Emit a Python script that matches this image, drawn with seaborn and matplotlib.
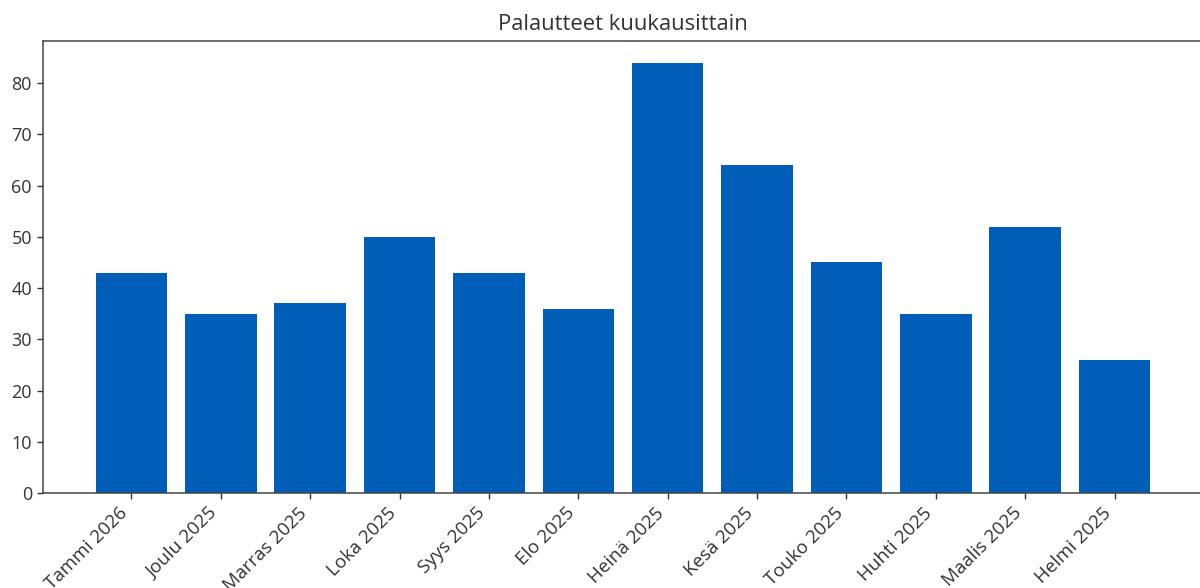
import seaborn as sns
import matplotlib.pyplot as plt
import pandas as pd

months = ["Tammi 2026", "Joulu 2025", "Marras 2025", "Loka 2025", "Syys 2025",
          "Elo 2025", "Heinä 2025", "Kesä 2025", "Touko 2025", "Huhti 2025",
          "Maalis 2025", "Helmi 2025"]
counts = [43, 35, 37, 50, 43, 36, 84, 64, 45, 35, 52, 26]

df = pd.DataFrame({"kuukausi": months, "palautteet": counts})

plt.rcParams["font.family"] = ["Open Sans", "DejaVu Sans"]
plt.rcParams["text.color"] = "#333333"
plt.rcParams["xtick.color"] = "#333333"
plt.rcParams["ytick.color"] = "#333333"
plt.rcParams["axes.edgecolor"] = "#444444"

fig = plt.figure(figsize=(12, 5.88), dpi=100)
ax = fig.add_axes([43 / 1200, 1 - 493 / 588, 1160 / 1200, 452 / 588])
sns.barplot(data=df, x="kuukausi", y="palautteet", color="#005EB8",
            saturation=1, width=0.8, ax=ax)
ax.set_xlim(-0.99, 11.99)
ax.set_ylim(0, 88.2)
ax.set_title("Palautteet kuukausittain", fontsize=15.8, pad=8)
ax.set_xlabel("")
ax.set_ylabel("")
ax.tick_params(axis="y", labelsize=13, length=4.5, width=1)
ax.tick_params(axis="x", labelsize=13.5, length=4.5, width=1)
for s in ax.spines.values():
    s.set_linewidth(1.1)
plt.setp(ax.get_xticklabels(), rotation=45, ha="right")
fig.savefig("out.png", dpi=100)
